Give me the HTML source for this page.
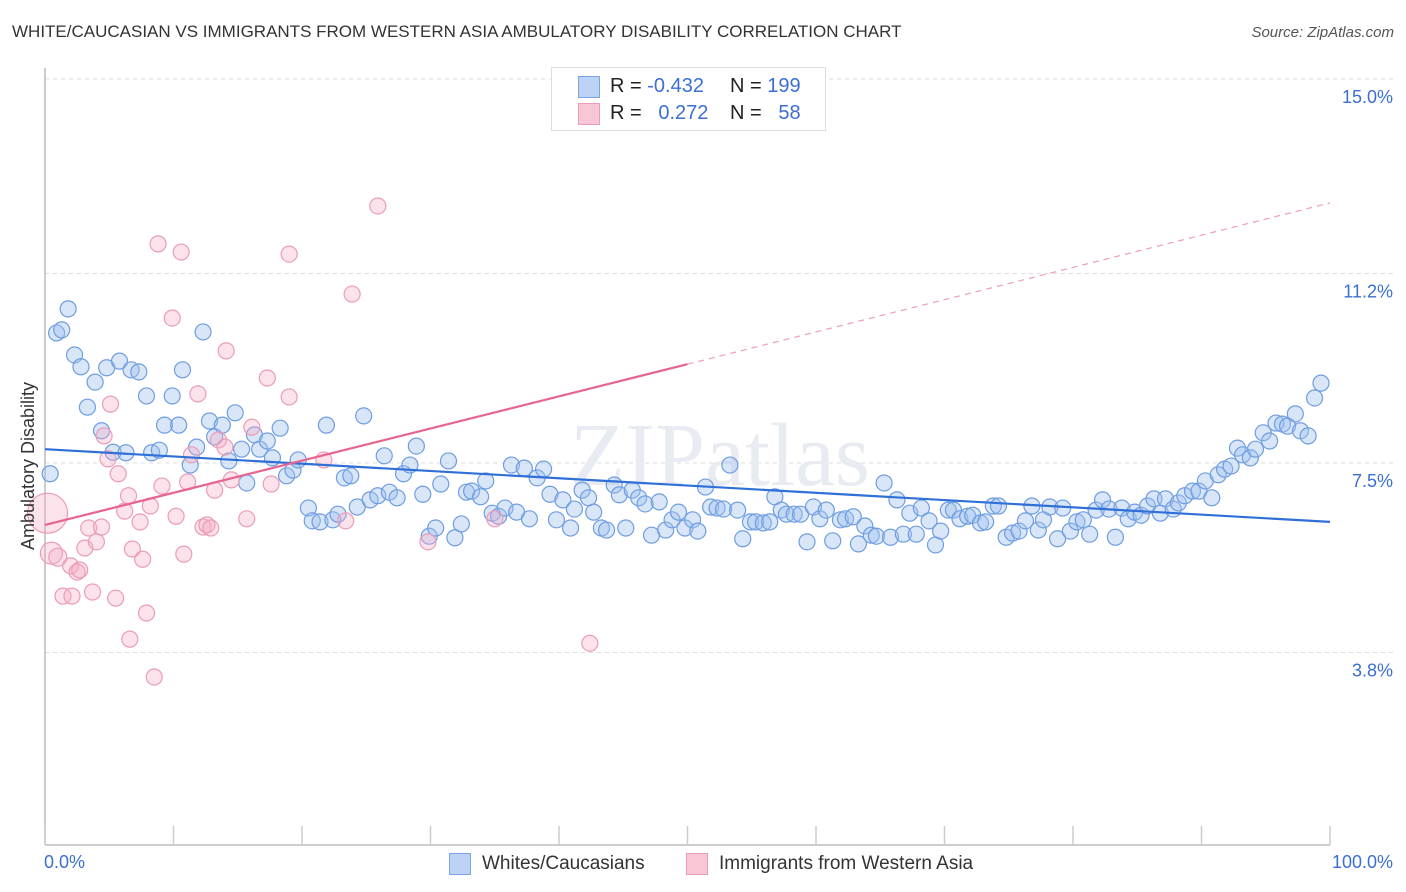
<!DOCTYPE html>
<html><head><meta charset="utf-8">
<style>
body{margin:0;background:#fff;font-family:"Liberation Sans",sans-serif;}
#wrap{position:relative;width:1406px;height:892px;overflow:hidden;}
.t{position:absolute;white-space:nowrap;}
</style></head>
<body>
<div id="wrap">
<div class="t" style="left:12px;top:22px;font-size:17px;color:#333;">WHITE/CAUCASIAN VS IMMIGRANTS FROM WESTERN ASIA AMBULATORY DISABILITY CORRELATION CHART</div>
<div class="t" style="right:12px;top:24px;font-size:15px;color:#555;font-style:italic;">Source: ZipAtlas.com</div>
<svg id="chart" width="1406" height="892" style="position:absolute;left:0;top:0"></svg>
</div>
<script>
const NS="http://www.w3.org/2000/svg";
const svg=document.getElementById('chart');
const yTicks=[3.8,7.5,11.2,15.0];
const yTickLabels=["3.8%","7.5%","11.2%","15.0%"];
const xTicks=[0,10,20,30,40,50,60,70,80,90,100];
const blueX=[0.4,0.9,1.3,1.8,2.3,2.8,3.3,3.9,4.4,4.8,5.3,5.8,6.3,6.7,7.3,7.9,8.3,8.9,9.3,9.9,10.4,10.7,11.3,11.8,12.3,12.8,13.2,13.8,14.3,14.8,15.3,15.7,16.3,16.7,17.3,17.7,18.3,18.8,19.3,19.7,20.5,20.8,21.4,21.9,22.4,22.8,23.3,23.8,24.3,24.8,25.3,25.9,26.4,26.8,27.4,27.9,28.4,28.9,29.4,29.9,30.4,30.8,31.4,31.9,32.4,32.8,33.2,33.9,34.3,34.8,35.3,35.8,36.3,36.7,37.3,37.7,38.3,38.8,39.3,39.8,40.3,40.9,41.2,41.8,42.3,42.7,43.3,43.7,44.3,44.7,45.2,45.7,46.2,46.7,47.2,47.8,48.3,48.8,49.3,49.8,50.4,50.8,51.4,51.8,52.3,52.8,53.3,53.9,54.3,54.9,55.3,55.9,56.4,56.8,57.3,57.7,58.3,58.8,59.3,59.8,60.3,60.8,61.3,61.9,62.3,62.9,63.3,63.8,64.3,64.7,65.3,65.8,66.3,66.8,67.3,67.8,68.2,68.8,69.3,69.7,70.3,70.7,71.2,71.8,72.2,72.8,73.2,73.8,74.2,74.8,75.3,75.8,76.3,76.8,77.3,77.7,78.2,78.8,79.2,79.8,80.3,80.8,81.3,81.8,82.3,82.8,83.3,83.8,84.3,84.8,85.3,85.8,86.3,86.8,87.2,87.8,88.2,88.7,89.3,89.8,90.3,90.8,91.3,91.8,92.3,92.8,93.2,93.8,94.2,94.8,95.3,95.8,96.3,96.7,97.3,97.7,98.3,98.8,99.3];
const blueY=[7.29,10.04,10.10,10.51,9.61,9.38,8.59,9.08,8.13,9.36,7.71,9.49,7.70,9.32,9.28,8.81,7.70,7.75,8.24,8.81,8.24,9.32,7.46,7.81,10.06,8.32,8.01,8.24,7.54,8.48,7.77,7.11,8.05,7.77,7.93,7.60,8.18,7.25,7.36,7.56,6.62,6.37,6.35,8.24,6.39,6.50,7.21,7.25,6.64,8.42,6.78,6.86,7.64,6.93,6.82,7.29,7.46,7.83,6.89,6.07,6.23,7.09,7.54,6.04,6.31,6.93,6.95,6.84,7.15,6.52,6.46,6.62,7.46,6.54,7.40,6.41,7.21,7.38,6.89,6.39,6.78,6.23,6.60,6.97,6.82,6.54,6.23,6.19,7.07,6.88,6.23,6.97,6.82,6.70,6.09,6.74,6.19,6.39,6.54,6.23,6.39,6.17,7.03,6.64,6.62,6.60,7.46,6.58,6.02,6.35,6.35,6.33,6.35,6.84,6.58,6.50,6.50,6.50,5.96,6.64,6.41,6.58,5.98,6.39,6.41,6.45,5.92,6.27,6.09,6.07,7.11,6.05,6.78,6.11,6.52,6.11,6.62,6.37,5.90,6.17,6.58,6.58,6.41,6.46,6.48,6.33,6.35,6.66,6.66,6.05,6.13,6.17,6.37,6.66,6.19,6.39,6.64,6.02,6.62,6.17,6.35,6.39,6.11,6.58,6.78,6.60,6.05,6.62,6.41,6.54,6.48,6.66,6.80,6.52,6.80,6.60,6.72,6.86,6.95,6.95,7.15,6.82,7.27,7.38,7.44,7.79,7.66,7.60,7.77,8.09,7.93,8.28,8.26,8.22,8.46,8.13,8.03,8.77,9.06];
const pinkX=[0.2,0.5,1.0,1.4,2.0,2.1,2.5,2.7,3.1,3.4,3.7,4.0,4.4,4.6,4.9,5.1,5.5,5.7,6.2,6.5,6.6,6.8,7.4,7.6,7.9,8.2,8.5,8.8,9.1,9.9,10.2,10.6,10.8,11.1,11.4,11.9,12.3,12.6,12.9,13.2,13.5,14.0,14.1,14.5,15.7,16.1,17.3,17.6,19.0,19.0,21.7,23.4,23.9,25.9,29.8,35.0,42.4];
const pinkY=[6.52,5.74,5.66,4.90,5.49,4.90,5.37,5.41,5.84,6.23,4.98,5.96,6.25,8.03,7.58,8.65,4.86,7.29,6.56,6.86,4.06,5.82,6.35,5.62,4.57,6.66,3.32,11.78,7.05,10.33,6.46,11.62,5.72,7.13,7.66,8.85,6.25,6.29,6.23,6.97,7.95,7.81,9.69,7.17,6.41,8.20,9.16,7.09,11.58,8.79,7.56,6.37,10.80,12.52,5.96,6.41,3.98];
const pinkR=[20,11,9,8,8,8,8,8,8,8,8,8,8,8,8,8,8,8,8,8,8,8,8,8,8,8,8,8,8,8,8,8,8,8,8,8,8,8,8,8,8,8,8,8,8,8,8,8,8,8,8,8,8,8,8,8,8];
const blueTrendY=[7.77,6.35];
const pinkTrendY=[6.29,9.43,12.58];
const X0=45,X1=1330,Y0=847,PXPER=51.2;
const xs=v=>X0+(X1-X0)*v/100;
const ys=v=>Y0-v*PXPER;
function mk(tag,attrs){const e=document.createElementNS(NS,tag);for(const k in attrs)e.setAttribute(k,attrs[k]);svg.appendChild(e);return e;}
// gridlines
yTicks.forEach((v,i)=>{
 const g=mk('line',{x1:45,x2:1393,y1:ys(v),y2:ys(v),stroke:'#ddd','stroke-dasharray':'4,4'});
 
 
 const t=mk('text',{x:1393,y:ys(v)+24,'text-anchor':'end','font-size':18,fill:'#3b6fd4','font-family':'Liberation Sans, sans-serif'});
 t.textContent=yTickLabels[i];
 
 
});
const gtop=mk('line',{x1:45,x2:1393,y1:79,y2:79,stroke:'#ddd','stroke-dasharray':'4,4'});
// axes
const ya=mk('line',{x1:45,x2:45,y1:68,y2:845,stroke:'#bbb','stroke-width':1.5});


const xa=mk('line',{x1:45,x2:1330,y1:845,y2:845,stroke:'#bbb','stroke-width':1.5});


xTicks.forEach(v=>{
 const l=mk('line',{x1:xs(v),x2:xs(v),y1:826,y2:845,stroke:'#ccc','stroke-width':1.5});
 
 
});
// watermark
const wm=mk('text',{x:720,y:485,'text-anchor':'middle','font-size':90,fill:'#e8ecf2','font-family':'Liberation Serif, serif'});
wm.textContent='ZIPatlas';


// points
blueX.forEach((v,i)=>{
 const c=mk('circle',{cx:xs(v),cy:ys(blueY[i]),r:8,fill:'rgba(160,192,238,0.4)',stroke:'#6e9de2','stroke-width':1.2});
 
 
});
pinkX.forEach((v,i)=>{
 const c=mk('circle',{cx:xs(v),cy:ys(pinkY[i]),r:pinkR[i],fill:'rgba(244,172,198,0.35)',stroke:'#eb9cb8','stroke-width':1.2});
 
 
});
// trends
const bt=mk('line',{x1:xs(0),y1:ys(blueTrendY[0]),x2:xs(100),y2:ys(blueTrendY[1]),stroke:'#2f6fd8','stroke-width':2.2});


const pt=mk('line',{x1:xs(0),y1:ys(pinkTrendY[0]),x2:xs(50),y2:ys(pinkTrendY[1]),stroke:'#e8648e','stroke-width':2.2});


const pd=mk('line',{x1:xs(50),y1:ys(pinkTrendY[1]),x2:xs(100),y2:ys(pinkTrendY[2]),stroke:'#eba0b8','stroke-width':1.2,'stroke-dasharray':'6,5'});


</script>
<div class="t" style="left:44px;top:852px;font-size:18px;color:#3b6fd4;">0.0%</div>
<div class="t" style="right:13px;top:852px;font-size:18px;color:#3b6fd4;">100.0%</div>
<div class="t" style="left:8px;top:455px;font-size:18px;color:#333;transform:rotate(-90deg);transform-origin:0 0;left:18px;top:550px;">Ambulatory Disability</div>
<div style="position:absolute;left:551px;top:67px;width:273px;height:62px;border:1px solid #ddd;background:#fff;font-size:20px;color:#222;">
 <div style="position:absolute;left:26px;top:8px;width:20px;height:20px;background:#bcd3f5;border:1px solid #7aa3e2;"></div>
 <div class="t" style="left:58px;top:7px;">R = <span style="color:#3b6fd4">-0.432</span></div>
 <div class="t" style="left:178px;top:7px;">N = <span style="color:#3b6fd4">199</span></div>
 <div style="position:absolute;left:26px;top:35px;width:20px;height:20px;background:#f9c6d6;border:1px solid #ec9cb6;"></div>
 <div class="t" style="left:58px;top:34px;">R = &nbsp;&nbsp;<span style="color:#3b6fd4">0.272</span></div>
 <div class="t" style="left:178px;top:34px;">N = &nbsp;&nbsp;<span style="color:#3b6fd4">58</span></div>
</div>
<div style="position:absolute;left:449px;top:853px;font-size:19px;color:#333;">
 <div style="position:absolute;left:0;top:0;width:20px;height:20px;background:#bcd3f5;border:1px solid #7aa3e2;"></div>
 <div class="t" style="left:33px;top:0;">Whites/Caucasians</div>
 <div style="position:absolute;left:237px;top:0;width:20px;height:20px;background:#f9c6d6;border:1px solid #ec9cb6;"></div>
 <div class="t" style="left:270px;top:0;">Immigrants from Western Asia</div>
</div>
</body></html>
